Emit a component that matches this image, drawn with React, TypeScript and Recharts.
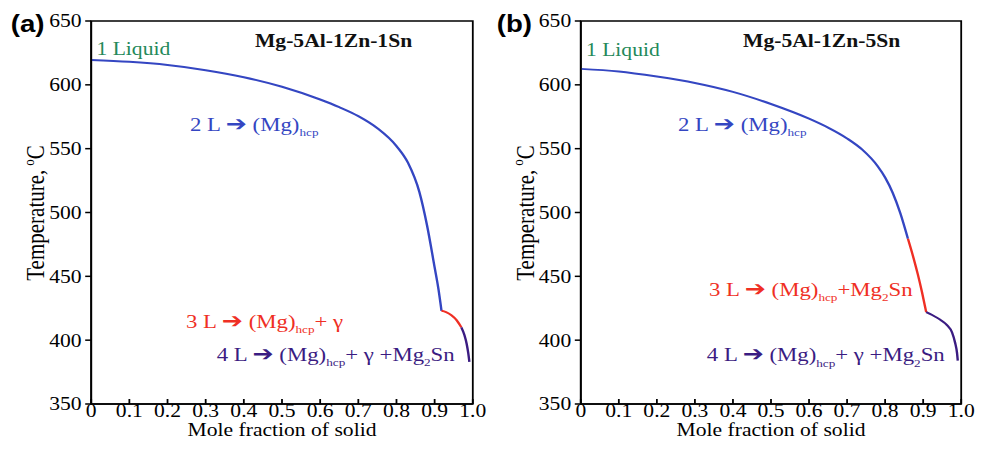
import React from 'react';
import { LineChart, Line, XAxis, YAxis, ReferenceArea } from 'recharts';

// the source figure is stretched horizontally, so everything is drawn narrow and scaled
const S = 1.2;
const W_IN = 986 / S;

const xTicks = [0, 0.1, 0.2, 0.3, 0.4, 0.5, 0.6, 0.7, 0.8, 0.9, 1.0];
const yTicks = [350, 400, 450, 500, 550, 600, 650];

// (a) Mg-5Al-1Zn-1Sn
const aStage2 = [
  { f: 0, t: 619.5 }, { f: 0.1, t: 618 }, { f: 0.2, t: 615.5 }, { f: 0.3, t: 611.5 },
  { f: 0.4, t: 606 }, { f: 0.5, t: 598.5 }, { f: 0.6, t: 588.5 }, { f: 0.65, t: 582.5 },
  { f: 0.7, t: 575.5 }, { f: 0.75, t: 566 }, { f: 0.8, t: 552 }, { f: 0.83, t: 539 },
  { f: 0.86, t: 516 }, { f: 0.88, t: 490 }, { f: 0.9, t: 457 }, { f: 0.91, t: 440 },
  { f: 0.918, t: 423 },
];
const aStage3 = [
  { f: 0.918, t: 423 }, { f: 0.93, t: 422 }, { f: 0.944, t: 419.5 }, { f: 0.958, t: 415.5 },
  { f: 0.97, t: 410 },
];
const aStage4 = [
  { f: 0.97, t: 410 }, { f: 0.978, t: 404 }, { f: 0.984, t: 397 }, { f: 0.988, t: 390 },
  { f: 0.991, t: 383 },
];

// (b) Mg-5Al-1Zn-5Sn
const bStage2 = [
  { f: 0, t: 612.5 }, { f: 0.1, t: 610.5 }, { f: 0.2, t: 606.5 }, { f: 0.3, t: 601.5 },
  { f: 0.4, t: 594.5 }, { f: 0.5, t: 585 }, { f: 0.6, t: 573.5 }, { f: 0.65, t: 566.5 },
  { f: 0.7, t: 558 }, { f: 0.74, t: 549.2 }, { f: 0.78, t: 536.4 }, { f: 0.8, t: 527.4 },
  { f: 0.82, t: 515.4 }, { f: 0.84, t: 499.4 }, { f: 0.86, t: 479.4 },
];
const bStage3 = [
  { f: 0.86, t: 479.4 }, { f: 0.875, t: 464 }, { f: 0.886, t: 451.5 }, { f: 0.897, t: 437.5 },
  { f: 0.908, t: 422 },
];
const bStage4 = [
  { f: 0.908, t: 422 }, { f: 0.925, t: 419.5 }, { f: 0.945, t: 416 }, { f: 0.962, t: 412 },
  { f: 0.976, t: 406 }, { f: 0.984, t: 398 }, { f: 0.989, t: 390 }, { f: 0.991, t: 384 },
];

const SERIF = "'Liberation Serif', 'Times New Roman', serif";
const BLUE = '#3446c2';
const RED = '#ef2f24';
const PURPLE = '#3b1c82';
const GREEN = '#24895a';

type Part = [string, 'n' | 'sub' | 'arrow'];

const Note = ({ x, y, color, parts }: { x: number; y: number; color: string; parts: Part[] }) => {
  let shift = 0;
  return (
    <text x={x} y={y} fill={color} fontFamily={SERIF} fontSize={19}>
      {parts.map(([txt, kind], i) => {
        const target = kind === 'sub' ? 5 : 0;
        const dy = target - shift;
        shift = target;
        if (kind === 'arrow') {
          return (
            <tspan key={i} dy={dy} fontFamily="'DejaVu Sans'" fontSize={21}>{txt}</tspan>
          );
        }
        return (
          <tspan key={i} dy={dy} fontSize={kind === 'sub' ? 11 : 19}>{txt}</tspan>
        );
      })}
    </text>
  );
};

const Panel = ({ width, margin, s2, s3, s4 }: any) => (
  <LineChart width={width} height={454} margin={margin} style={{ fontFamily: SERIF }}>
    <XAxis
      dataKey="f"
      type="number"
      domain={[0, 1]}
      ticks={xTicks}
      allowDataOverflow
      interval={0}
      height={50}
      tickSize={-5}
      tickMargin={5}
      stroke="#000"
      strokeWidth={1.5}
      tick={{ fill: '#000', fontSize: 18, fontFamily: SERIF }}
      tickFormatter={(v: number) => (v === 0 ? '0' : v.toFixed(1))}
      label={{ value: 'Mole fraction of solid', position: 'insideBottom', offset: 18, fill: '#000', fontSize: 18, fontFamily: SERIF }}
    />
    <YAxis
      type="number"
      domain={[350, 650]}
      ticks={yTicks}
      interval={0}
      width={60}
      tickSize={5}
      tickMargin={3}
      stroke="#000"
      strokeWidth={1.5}
      tick={{ fill: '#000', fontSize: 18, fontFamily: SERIF }}
    />
    <ReferenceArea x1={0} x2={1} y1={350} y2={650} fill="none" stroke="#000" strokeWidth={1.5} />
    <Line data={s2} dataKey="t" type="monotone" stroke={BLUE} strokeWidth={2} dot={false} isAnimationActive={false} />
    <Line data={s3} dataKey="t" type="monotone" stroke={RED} strokeWidth={2} dot={false} isAnimationActive={false} />
    <Line data={s4} dataKey="t" type="monotone" stroke={PURPLE} strokeWidth={2} dot={false} isAnimationActive={false} />
  </LineChart>
);

const TempLabel = ({ x }: { x: number }) => (
  <text transform={`translate(${x},213) rotate(-90)`} textAnchor="middle" fontFamily={SERIF} fontSize={21} fill="#000">
    Temperature,
    <tspan dx={4} dy={-9} fontSize={13}>o</tspan>
    <tspan dy={9}>C</tspan>
  </text>
);

export default function App() {
  return (
    <div style={{ position: 'absolute', left: 0, top: 0, width: 986, height: 454, overflow: 'hidden', background: '#fff' }}>
      <div style={{ position: 'relative', width: W_IN, height: 454, transform: `scaleX(${S})`, transformOrigin: '0 0' }}>
        <div style={{ position: 'absolute', left: 0, top: 0 }}>
          <Panel width={410} margin={{ top: 21, right: 16, bottom: 0, left: 16 }} s2={aStage2} s3={aStage3} s4={aStage4} />
        </div>
        <div style={{ position: 'absolute', left: 410, top: 0 }}>
          <Panel width={412} margin={{ top: 21, right: 21, bottom: 0, left: 14 }} s2={bStage2} s3={bStage3} s4={bStage4} />
        </div>
        <svg width={W_IN} height={454} style={{ position: 'absolute', left: 0, top: 0, pointerEvents: 'none' }}>
          <text x={9} y={32} fontFamily="'Liberation Sans', Arial, sans-serif" fontWeight="bold" fontSize={23} fill="#000">(a)</text>
          <text x={414} y={32} fontFamily="'Liberation Sans', Arial, sans-serif" fontWeight="bold" fontSize={23} fill="#000">(b)</text>
          <TempLabel x={37} />
          <TempLabel x={445} />

          <text x={80.4} y={55.5} fontFamily={SERIF} fontSize={18} fill={GREEN}>1 Liquid</text>
          <text x={212.5} y={47} fontFamily={SERIF} fontSize={18} fontWeight="bold" fill="#111">Mg-5Al-1Zn-1Sn</text>
          <Note x={158.3} y={131} color={BLUE} parts={[['2 L ', 'n'], ['➔', 'arrow'], [' (Mg)', 'n'], ['hcp', 'sub']]} />
          <Note x={155} y={328} color={RED} parts={[['3 L ', 'n'], ['➔', 'arrow'], [' (Mg)', 'n'], ['hcp', 'sub'], ['+ γ', 'n']]} />
          <Note x={180.6} y={361} color={PURPLE} parts={[['4 L ', 'n'], ['➔', 'arrow'], [' (Mg)', 'n'], ['hcp', 'sub'], ['+ γ +Mg', 'n'], ['2', 'sub'], ['Sn', 'n']]} />

          <text x={488.3} y={56} fontFamily={SERIF} fontSize={18} fill={GREEN}>1 Liquid</text>
          <text x={619.2} y={47} fontFamily={SERIF} fontSize={18} fontWeight="bold" fill="#111">Mg-5Al-1Zn-5Sn</text>
          <Note x={565} y={131.5} color={BLUE} parts={[['2 L ', 'n'], ['➔', 'arrow'], [' (Mg)', 'n'], ['hcp', 'sub']]} />
          <Note x={590.8} y={296} color={RED} parts={[['3 L ', 'n'], ['➔', 'arrow'], [' (Mg)', 'n'], ['hcp', 'sub'], ['+Mg', 'n'], ['2', 'sub'], ['Sn', 'n']]} />
          <Note x={589} y={361.5} color={PURPLE} parts={[['4 L ', 'n'], ['➔', 'arrow'], [' (Mg)', 'n'], ['hcp', 'sub'], ['+ γ +Mg', 'n'], ['2', 'sub'], ['Sn', 'n']]} />
        </svg>
      </div>
    </div>
  );
}
